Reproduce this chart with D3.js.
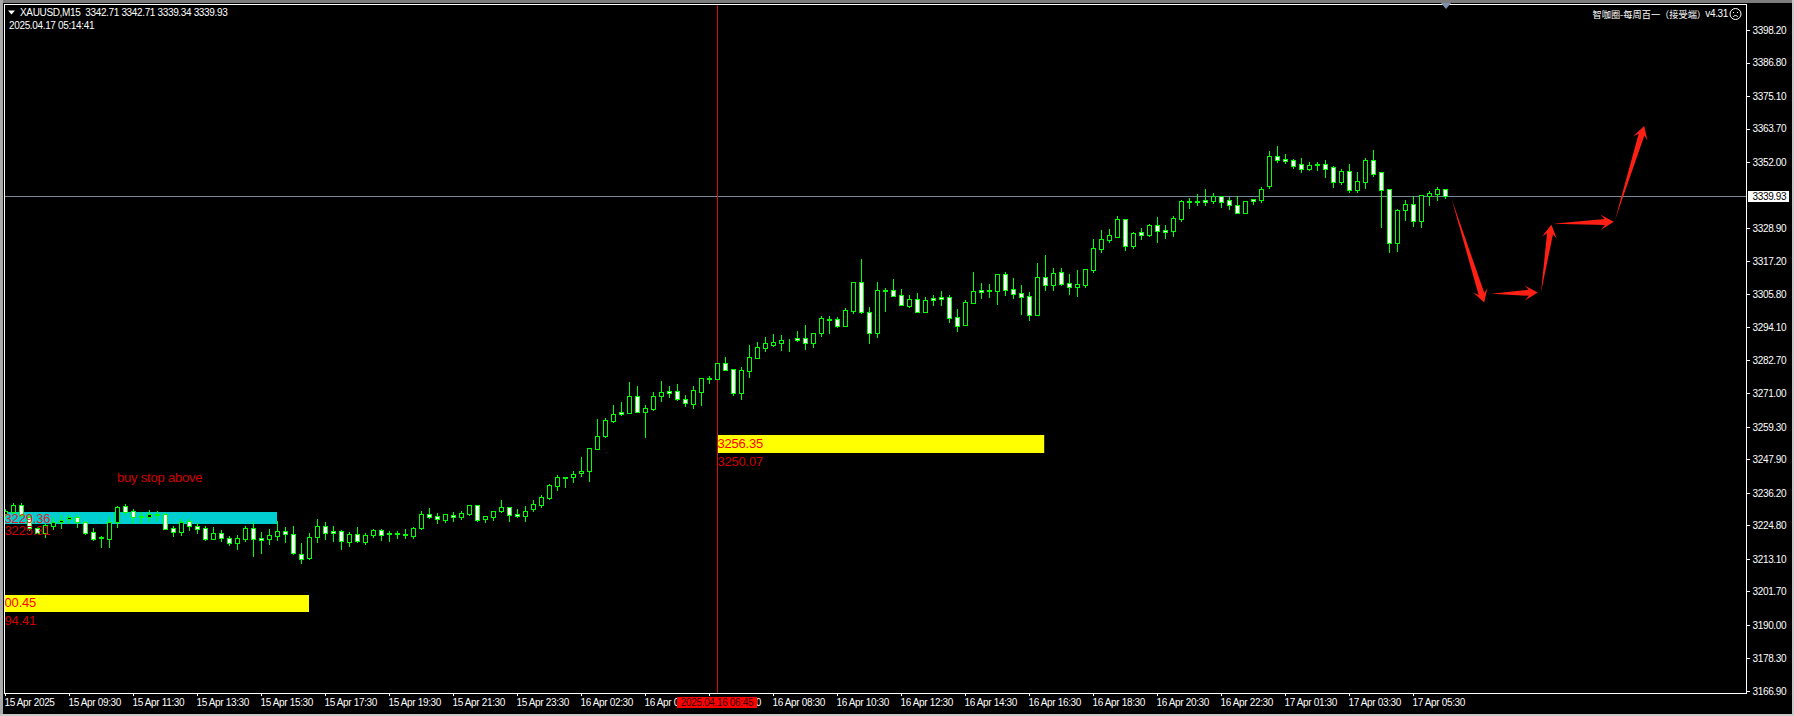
<!DOCTYPE html>
<html><head><meta charset="utf-8">
<script src="https://cdn.jsdelivr.net/npm/d3@7/dist/d3.min.js"></script>
<style>
html,body{margin:0;padding:0;background:#000;overflow:hidden}
svg{display:block}
text{font-family:"Liberation Sans",Arial,sans-serif}
.t{fill:#fff;font-size:10px;letter-spacing:-.35px}
</style></head><body>
<svg id="c" width="1794" height="716"></svg>
<script>
const opens=[3228.8,3229.5,3231.8,3227.9,3223.8,3222.3,3224.7,3225.9,3226.9,3227.6,
3225.9,3222.4,3220.6,3220.2,3225.9,3231.5,3229.7,3228.1,3227.6,3228.9,
3228.7,3223.8,3222.6,3226.5,3224.5,3223.8,3220.2,3222.0,3220.3,3218.8,
3220.2,3223.8,3220.3,3220.2,3221.2,3222.7,3221.7,3214.9,3213.5,3220.6,
3224.5,3222.7,3222.7,3219.1,3221.9,3219.0,3221.6,3223.1,3222.0,3222.0,
3221.7,3221.2,3223.8,3228.7,3228.0,3226.8,3228.5,3227.9,3228.8,3231.8,
3226.9,3227.9,3230.0,3231.1,3228.8,3228.2,3230.6,3232.0,3234.5,3238.6,
3241.8,3241.9,3243.0,3244.0,3251.7,3256.2,3261.5,3264.4,3264.3,3270.0,
3264.6,3265.7,3270.2,3271.8,3271.7,3268.9,3267.4,3271.6,3276.3,3276.2,
3281.5,3279.4,3271.3,3279.0,3283.5,3287.0,3288.1,3288.8,3289.8,3290.3,
3290.3,3288.8,3292.3,3297.0,3296.9,3294.7,3300.0,3309.9,3299.4,3292.3,
3307.2,3307.1,3305.3,3301.7,3303.9,3299.6,3304.4,3304.6,3304.6,3297.6,
3295.0,3302.8,3307.1,3307.1,3307.0,3312.7,3307.4,3306.0,3305.0,3298.6,
3311.6,3309.1,3313.4,3309.5,3308.4,3309.1,3314.3,3321.7,3324.8,3325.9,
3331.9,3322.7,3327.5,3326.6,3329.8,3328.2,3328.0,3332.2,3338.2,3338.2,
3338.7,3338.5,3340.0,3338.6,3336.8,3334.3,3338.9,3338.8,3343.7,3354.0,
3352.9,3352.6,3351.2,3349.6,3351.2,3351.2,3350.1,3345.1,3348.7,3342.3,
3345.1,3352.6,3348.4,3342.4,3323.8,3335.3,3337.2,3331.5,3340.2,3340.9,3342.71];
const highs=[3230.7,3232.8,3232.5,3228.5,3224.4,3225.3,3227.9,3228.5,3228.5,3228.3,
3226.5,3223.8,3221.1,3227.9,3231.6,3232.3,3230.4,3229.6,3230.2,3229.9,
3229.0,3224.7,3226.9,3226.9,3225.8,3224.6,3224.4,3223.2,3221.1,3221.4,
3224.6,3226.0,3222.6,3223.5,3226.2,3224.4,3224.6,3218.5,3222.0,3227.0,
3225.9,3224.6,3223.2,3222.6,3224.1,3222.0,3223.5,3223.5,3222.7,3222.7,
3223.5,3224.4,3229.9,3230.9,3229.0,3228.9,3229.5,3229.9,3232.1,3232.0,
3228.1,3229.9,3233.7,3231.2,3230.6,3231.6,3233.7,3235.3,3239.3,3242.4,
3241.8,3243.9,3248.9,3251.8,3262.2,3262.4,3267.0,3268.0,3275.0,3273.6,
3266.8,3271.5,3275.3,3273.6,3274.3,3270.4,3273.6,3276.3,3277.1,3281.5,
3283.8,3279.4,3280.1,3288.0,3289.0,3290.8,3291.8,3291.4,3290.0,3292.8,
3295.0,3292.0,3298.1,3298.1,3297.8,3300.9,3309.9,3318.0,3301.1,3310.0,
3307.8,3310.9,3307.4,3305.4,3306.2,3304.6,3305.4,3306.8,3305.4,3300.6,
3303.7,3313.5,3309.6,3309.3,3312.7,3313.5,3311.4,3309.0,3306.5,3316.6,
3319.4,3314.9,3314.9,3312.8,3314.2,3314.4,3325.0,3328.2,3328.5,3333.1,
3331.9,3327.5,3328.9,3330.3,3332.8,3330.0,3333.1,3338.7,3339.4,3340.8,
3342.6,3341.2,3340.0,3339.8,3340.0,3338.2,3338.9,3343.2,3355.8,3357.6,
3354.8,3353.0,3353.4,3352.0,3352.0,3352.7,3350.6,3349.4,3351.3,3348.5,
3353.4,3356.2,3348.4,3342.4,3335.4,3338.7,3340.0,3340.4,3341.8,3343.1,3342.71];
const lows=[3227.9,3229.3,3228.1,3223.2,3222.0,3220.6,3223.4,3223.8,3225.5,3224.4,
3221.8,3219.7,3217.4,3217.4,3224.4,3228.8,3225.8,3225.5,3226.5,3226.7,
3223.4,3221.2,3221.6,3223.2,3222.3,3219.8,3219.9,3219.5,3218.1,3216.7,
3219.5,3214.1,3215.3,3218.3,3219.7,3219.1,3214.8,3211.8,3213.0,3219.1,
3220.2,3219.3,3216.7,3217.7,3219.0,3218.3,3220.7,3219.7,3219.3,3220.5,
3220.4,3220.4,3223.5,3227.4,3225.8,3226.0,3226.5,3227.2,3228.4,3226.5,
3226.0,3226.7,3229.5,3226.5,3227.7,3226.5,3230.0,3231.4,3234.0,3237.2,
3238.2,3240.0,3242.1,3240.3,3251.5,3255.7,3261.0,3263.4,3264.3,3264.5,
3255.9,3265.3,3268.5,3269.7,3268.7,3266.6,3265.9,3267.0,3274.6,3276.2,
3279.2,3270.4,3269.0,3276.8,3283.4,3285.8,3287.6,3286.2,3285.8,3289.3,
3286.6,3287.2,3291.1,3292.2,3294.2,3294.7,3299.3,3299.0,3288.8,3290.9,
3299.8,3305.2,3302.1,3301.2,3299.5,3299.6,3302.0,3302.0,3296.0,3292.8,
3295.0,3302.8,3304.4,3304.8,3302.3,3305.4,3304.4,3298.8,3296.7,3298.6,
3307.2,3307.2,3309.0,3305.8,3305.1,3308.2,3313.5,3320.5,3324.0,3325.9,
3321.2,3321.9,3325.0,3326.1,3324.0,3325.4,3326.1,3331.4,3335.9,3337.0,
3337.0,3337.8,3336.2,3335.6,3334.0,3334.3,3337.3,3338.0,3342.9,3352.0,
3351.5,3349.9,3348.5,3349.2,3349.2,3346.8,3343.2,3344.3,3341.5,3341.5,
3342.9,3347.1,3329.2,3320.5,3320.8,3331.7,3329.6,3329.2,3337.0,3338.7,3339.34];
const closes=[3229.7,3231.8,3228.3,3223.8,3222.3,3225.0,3226.1,3226.8,3227.6,3225.9,
3222.3,3220.2,3220.3,3225.9,3231.1,3229.6,3227.9,3227.6,3228.7,3228.6,
3223.7,3222.6,3226.1,3224.5,3223.7,3220.2,3222.0,3220.5,3218.8,3220.3,
3223.8,3219.9,3219.8,3221.3,3222.7,3221.7,3215.0,3213.2,3220.6,3224.5,
3222.3,3222.3,3219.2,3221.9,3219.2,3221.3,3223.1,3221.6,3221.7,3221.7,
3221.4,3223.8,3228.7,3227.9,3226.9,3228.7,3227.7,3229.0,3231.8,3226.8,
3228.0,3229.7,3231.1,3228.6,3228.1,3229.7,3232.2,3234.6,3238.8,3241.6,
3241.5,3242.7,3243.7,3251.8,3256.0,3261.6,3263.7,3263.9,3270.0,3264.6,
3265.8,3270.0,3271.4,3271.2,3269.2,3267.8,3272.1,3276.3,3276.0,3281.5,
3279.3,3271.3,3279.1,3283.6,3287.1,3288.5,3288.9,3289.6,3289.6,3289.8,
3288.8,3292.0,3297.3,3296.8,3294.7,3300.1,3309.9,3299.6,3292.3,3307.1,
3306.8,3305.2,3302.1,3303.9,3299.6,3303.6,3303.8,3304.0,3297.5,3294.7,
3302.9,3306.7,3306.6,3306.8,3312.7,3307.3,3305.9,3304.9,3298.6,3311.6,
3309.1,3313.0,3309.4,3308.4,3309.2,3314.4,3321.8,3324.9,3326.3,3331.9,
3322.7,3327.0,3326.6,3329.8,3328.0,3327.5,3332.3,3338.2,3338.0,3338.0,
3338.1,3340.0,3338.1,3337.1,3334.3,3338.2,3338.5,3342.4,3354.0,3352.8,
3352.4,3350.7,3349.7,3350.8,3350.8,3349.7,3345.1,3348.7,3342.3,3345.2,
3352.6,3347.9,3342.3,3323.8,3335.1,3337.2,3331.5,3340.4,3341.0,3342.4,3339.93];

const priceTicks=[3398.2,3386.8,3375.1,3363.7,3352.0,3328.9,3317.2,3305.8,3294.1,3282.7,3271.0,3259.3,3247.9,3236.2,3224.8,3213.1,3201.7,3190.0,3178.3,3166.9];
const timeLabels=["15 Apr 2025","15 Apr 09:30","15 Apr 11:30","15 Apr 13:30","15 Apr 15:30","15 Apr 17:30","15 Apr 19:30","15 Apr 21:30","15 Apr 23:30","16 Apr 02:30","16 Apr 04:30","16 Apr 06:30","16 Apr 08:30","16 Apr 10:30","16 Apr 12:30","16 Apr 14:30","16 Apr 16:30","16 Apr 18:30","16 Apr 20:30","16 Apr 22:30","17 Apr 01:30","17 Apr 03:30","17 Apr 05:30"];
const timeLabelStep=8;
const lastPrice=3339.93;
const crossIndex=89;
const crossLabel="2025.04.16 06:45";
const titleText="XAUUSD,M15  3342.71 3342.71 3339.34 3339.93";
const clockText="2025.04.17 05:14:41";
const zones=[
 {from:-1,to:34,top:3229.36,bottom:3225.31,color:"#00ced1"},
 {from:-1,to:38,top:3200.45,bottom:3194.41,color:"#ffff00"},
 {from:89,to:129.9,top:3256.35,bottom:3250.07,color:"#ffff00"}];
const zoneLabels=[
 {i:-0.05,p:3225.5,text:"3229.36",color:"#e0202a"},
 {i:-0.05,p:3221.6,text:"3225.31",color:"#d00000"},
 {i:-0.05,p:3196.1,text:"00.45",color:"#ff0000"},
 {i:-0.05,p:3189.9,text:"94.41",color:"#d00000"},
 {i:89.05,p:3251.9,text:"3256.35",color:"#ff0000"},
 {i:89.05,p:3245.6,text:"3250.07",color:"#d00000"},
 {i:14,p:3240.1,text:"buy stop above",color:"#d00000"}];
const arrows=[
 [[180.8,3339.3],[184.9,3302.8]],
 [[185.8,3305.9],[191.6,3306.3]],
 [[192.0,3306.4],[193.3,3330.0]],
 [[193.5,3330.4],[201.1,3331.1]],
 [[201.25,3331.7],[204.9,3364.6]]];

const svg=d3.select("#c");
const L=4,R=1746.5,T=4,B=693;
const x=d3.scaleLinear().domain([0,180]).range([5,1445]);
const y=d3.scaleLinear().domain([3398.2,3166.9]).range([30,690.86]);
const px=v=>Math.round(v)+.5;

// window chrome
svg.append("rect").attr("width",1794).attr("height",716).attr("fill","#000");
svg.append("rect").attr("width",1794).attr("height",3).attr("fill","#7d7d7d");
svg.append("rect").attr("width",3).attr("height",716).attr("fill","#a9a9a9");
svg.append("rect").attr("y",714).attr("width",1794).attr("height",2).attr("fill","#c8c8c8");
svg.append("rect").attr("x",1792).attr("width",2).attr("height",716).attr("fill","#c8c8c8");

const defs=svg.append("defs");
defs.append("clipPath").attr("id","plot").append("rect").attr("x",L+1).attr("y",T+1).attr("width",R-L-1).attr("height",B-T-1);
const plot=svg.append("g").attr("clip-path","url(#plot)");

plot.selectAll("rect.zone").data(zones).join("rect").attr("class","zone")
 .attr("x",d=>x(d.from)).attr("width",d=>x(d.to)-x(d.from))
 .attr("y",d=>Math.round(y(d.top))).attr("height",d=>Math.round(y(d.bottom))-Math.round(y(d.top)))
 .attr("fill",d=>d.color);

// crosshair
plot.append("line").attr("x1",L).attr("x2",R).attr("y1",px(y(lastPrice))).attr("y2",px(y(lastPrice))).attr("stroke","#778899");
plot.append("line").attr("x1",x(crossIndex)+.5).attr("x2",x(crossIndex)+.5).attr("y1",T).attr("y2",B).attr("stroke","#d80a0a");

// candles
const idx=d3.range(closes.length);
plot.append("g").selectAll("line").data(idx).join("line")
 .attr("x1",i=>x(i)+.5).attr("x2",i=>x(i)+.5)
 .attr("y1",i=>Math.round(y(highs[i]))).attr("y2",i=>Math.round(y(lows[i]))+1)
 .attr("stroke","#00ff00").attr("shape-rendering","crispEdges");
plot.append("g").selectAll("rect").data(idx).join("rect")
 .attr("x",i=>x(i)-1.5).attr("width",4)
 .attr("y",i=>px(y(Math.max(opens[i],closes[i]))))
 .attr("height",i=>Math.max(0,Math.round(y(Math.min(opens[i],closes[i])))-Math.round(y(Math.max(opens[i],closes[i])))))
 .attr("fill",i=>closes[i]>=opens[i]?"#000":"#fff")
 .attr("stroke","#00ff00").attr("shape-rendering","crispEdges");

// arrows
function arrowPts(a){
 const [x0,y0,x1,y1]=[x(a[0][0]),y(a[0][1]),x(a[1][0]),y(a[1][1])];
 const len=Math.hypot(x1-x0,y1-y0),ux=(x1-x0)/len,uy=(y1-y0)/len,nx=-uy,ny=ux;
 const p=(along,side)=>[x1-ux*along+nx*side,y1-uy*along+ny*side];
 return [[x0,y0],p(9,3),p(13,7.5),[x1,y1],p(13,-7.5),p(9,-3)];
}
plot.append("g").selectAll("path").data(arrows).join("path")
 .attr("d",a=>d3.line()(arrowPts(a))+"Z").attr("fill","#ff2015");

// labels on the plot
plot.append("g").selectAll("text").data(zoneLabels).join("text")
 .attr("x",d=>x(d.i)).attr("y",d=>y(d.p)).attr("fill",d=>d.color)
 .style("font-size","13px").style("letter-spacing","-.2px").text(d=>d.text);

// axes
const yAxis=d3.axisRight(y).tickValues(priceTicks).tickFormat(d3.format(".2f")).tickSize(3).tickSizeOuter(0);
const gy=svg.append("g").attr("transform",`translate(${R},0)`).call(yAxis);
gy.select(".domain").remove();
gy.selectAll("line").attr("stroke","#fff").attr("shape-rendering","crispEdges");
gy.selectAll("text").attr("class","t").attr("x",6).attr("dy",".34em").attr("fill","#fff");

const xAxis=d3.axisBottom(x).tickValues(timeLabels.map((_,k)=>k*timeLabelStep)).tickFormat((_,k)=>timeLabels[k]).tickSize(3).tickSizeOuter(0);
const gx=svg.append("g").attr("transform",`translate(0,${B})`).call(xAxis);
gx.select(".domain").remove();
gx.selectAll("line").attr("stroke","#fff").attr("shape-rendering","crispEdges");
gx.selectAll("text").attr("class","t").attr("text-anchor","start").attr("x",-1).attr("y",13).attr("dy",0).attr("fill","#fff");

// frame
svg.append("path").attr("d",`M${L+.5},${T+.5}H${R}V${B+.5}H${L+.5}Z`).attr("fill","none").attr("stroke","#fff").attr("shape-rendering","crispEdges");

// crosshair time tag
svg.append("rect").attr("x",677).attr("y",697).attr("width",80).attr("height",11).attr("fill","#ff0000");
svg.append("text").attr("class","t").attr("x",717).attr("y",706).attr("text-anchor","middle").style("fill","#300000").text(crossLabel);

// last price tag
const ly=y(lastPrice);
svg.append("rect").attr("x",1748).attr("y",Math.round(ly)-5).attr("width",41).attr("height",11).attr("fill","#fff");
svg.append("text").attr("class","t").attr("x",R+6).attr("y",ly).attr("dy",".34em").style("fill","#000").text(d3.format(".2f")(lastPrice));

// header
svg.append("path").attr("d","M8,10.5H15L11.5,14.5Z").attr("fill","#fff");
svg.append("text").attr("class","t").attr("x",20).attr("y",16).attr("xml:space","preserve").style("white-space","pre").text(titleText);
svg.append("text").attr("class","t").attr("x",9).attr("y",29).text(clockText);
svg.append("text").attr("x",1706).attr("y",17.5).attr("text-anchor","end").attr("fill","#fff").style("font-family","'Noto Sans CJK SC'").style("font-size","9.2px").text("智咖圈-每周百一（接受端）");
svg.append("text").attr("class","t").attr("x",1728).attr("y",17).attr("text-anchor","end").text("v4.31");
const sm=svg.append("g").attr("transform","translate(1735.5,14)").attr("fill","none").attr("stroke","#fff");
sm.append("circle").attr("r",5.5);
sm.append("path").attr("d","M-2.5,3C-1,1 1,1 2.5,3");
sm.append("path").attr("d","M-2,-2V-1M2,-2V-1");
svg.append("path").attr("d","M1441,3H1451L1446,9Z").attr("fill","#7f8fa9");
</script></body></html>
